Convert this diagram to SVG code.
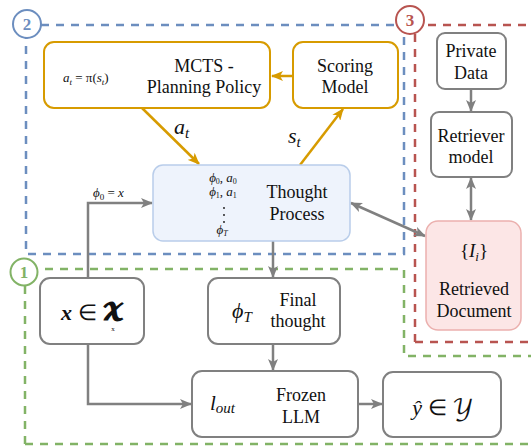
<svg xmlns="http://www.w3.org/2000/svg" width="531" height="447" viewBox="0 0 531 447" font-family="Liberation Serif, serif">
<style>
text { font-family: 'Liberation Serif', serif; fill: #111; }
.t { font-size: 18px; text-anchor: middle; }
.m { font-style: italic; }
.zone { fill: none; stroke-width: 2.5; stroke-dasharray: 8 7; }
.badge { fill: #fff; stroke-width: 2; }
.bn { font-size: 17px; font-weight: bold; text-anchor: middle; }
.gbox { fill: #fff; stroke: #808080; stroke-width: 2; }
.obox { fill: #fff; stroke: #d79b00; stroke-width: 2; }
.g { fill: none; stroke: #808080; stroke-width: 2.5; }
.o { fill: none; stroke: #d79b00; stroke-width: 2.5; }
</style>
<defs>
<marker id="ag" viewBox="0 0 12 10" refX="11" refY="5" markerWidth="12" markerHeight="10" markerUnits="userSpaceOnUse" orient="auto-start-reverse">
<path d="M0,0 L12,5 L0,10 L3,5 Z" fill="#808080"/>
</marker>
<marker id="ao" viewBox="0 0 12 10" refX="11" refY="5" markerWidth="12" markerHeight="10" markerUnits="userSpaceOnUse" orient="auto-start-reverse">
<path d="M0,0 L12,5 L0,10 L3,5 Z" fill="#d79b00"/>
</marker>
</defs>
<rect width="531" height="447" fill="#fff"/>

<g id="zones">
<rect class="zone" x="26" y="25" width="378" height="229" stroke="#6c8ebf"/>
<path class="zone" d="M415,342 L415,25 L540,25 M415,342 L540,342" stroke="#b85450"/>
<path class="zone" d="M25,444 L25,269 L404,269 L404,356 L540,356 M25,444 L540,444" stroke="#82b366"/>
<circle class="badge" cx="27" cy="24" r="14" stroke="#6c8ebf"/>
<text class="bn" x="27" y="30" style="fill:#6c8ebf">2</text>
<circle class="badge" cx="410" cy="20" r="14" stroke="#b85450"/>
<text class="bn" x="410" y="26" style="fill:#b85450">3</text>
<circle class="badge" cx="24" cy="272" r="13.5" stroke="#82b366"/>
<text class="bn" x="24" y="278" style="fill:#82b366">1</text>
</g>

<g id="connectors">
<path class="o" d="M293,76 L272,76" marker-end="url(#ao)"/>
<path class="o" d="M142,108 L199,164" marker-end="url(#ao)"/>
<path class="o" d="M300,165 L343,109" marker-end="url(#ao)"/>
<path class="g" d="M88,278 L88,203 L152,203" marker-end="url(#ag)"/>
<path class="g" d="M351,203 L425,236" marker-start="url(#ag)" marker-end="url(#ag)"/>
<path class="g" d="M471,89 L471,111" marker-end="url(#ag)"/>
<path class="g" d="M471,178 L471,220" marker-start="url(#ag)" marker-end="url(#ag)"/>
<path class="g" d="M273,241 L273,277" marker-end="url(#ag)"/>
<path class="g" d="M273,344 L273,370" marker-end="url(#ag)"/>
<path class="g" d="M88,344 L88,404 L191,404" marker-end="url(#ag)"/>
<path class="g" d="M358,404 L382,404" marker-end="url(#ag)"/>
<text class="m" x="174" y="134" style="font-size:22px">a<tspan dy="4" style="font-size:15px">t</tspan></text>
<text class="m" x="288" y="143" style="font-size:22px">s<tspan dy="4" style="font-size:15px">t</tspan></text>
<text class="m" x="93" y="197" style="font-size:13px">ϕ<tspan dy="3" style="font-size:9px;font-style:normal">0</tspan><tspan dy="-3" style="font-style:normal"> = </tspan>x</text>
</g>

<g id="mcts">
<rect class="obox" x="44" y="42" width="226" height="66" rx="10"/>
<text class="m" x="63" y="82" style="font-size:13px">a<tspan dy="3" style="font-size:9px">t</tspan><tspan dy="-3" style="font-style:normal"> = π(</tspan>s<tspan dy="3" style="font-size:9px">t</tspan><tspan dy="-3" style="font-style:normal">)</tspan></text>
<text class="t" x="204" y="72">MCTS -</text>
<text class="t" x="204" y="93">Planning Policy</text>
</g>

<g id="scoring">
<rect class="obox" x="293" y="42" width="105" height="66" rx="10"/>
<text class="t" x="345" y="72">Scoring</text>
<text class="t" x="345" y="93">Model</text>
</g>

<g id="thought">
<rect x="153" y="165" width="197" height="76" rx="10" fill="#eef3fc" stroke="#b9cdea" stroke-width="1.5"/>
<text class="m" x="223" y="182" style="font-size:13px;text-anchor:middle">ϕ<tspan dy="2" style="font-size:8px;font-style:normal">0</tspan><tspan dy="-2" style="font-style:normal">, </tspan>a<tspan dy="2" style="font-size:8px;font-style:normal">0</tspan></text>
<text class="m" x="223" y="196" style="font-size:13px;text-anchor:middle">ϕ<tspan dy="2" style="font-size:8px;font-style:normal">1</tspan><tspan dy="-2" style="font-style:normal">, </tspan>a<tspan dy="2" style="font-size:8px;font-style:normal">1</tspan></text>
<circle cx="224" cy="208" r="0.9" fill="#111"/>
<circle cx="224" cy="215" r="0.9" fill="#111"/>
<circle cx="224" cy="222" r="0.9" fill="#111"/>
<text class="m" x="222" y="234" style="font-size:13px;text-anchor:middle">ϕ<tspan dy="2" style="font-size:8px">T</tspan></text>
<text class="t" x="297" y="198">Thought</text>
<text class="t" x="297" y="220">Process</text>
</g>

<g id="private-data">
<rect class="gbox" x="437" y="33" width="69" height="56" rx="8"/>
<text class="t" x="471" y="57">Private</text>
<text class="t" x="471" y="79">Data</text>
</g>

<g id="retriever">
<rect class="gbox" x="431" y="112" width="81" height="65" rx="8"/>
<text class="t" x="471" y="142">Retriever</text>
<text class="t" x="471" y="163">model</text>
</g>

<g id="retrieved-doc">
<rect x="426" y="221" width="95" height="109" rx="12" fill="#fce6e6" stroke="#ebb0ae" stroke-width="1.5"/>
<text x="474" y="257" style="font-size:19px;text-anchor:middle">{<tspan class="m">I</tspan><tspan class="m" dy="4" style="font-size:13px">i</tspan><tspan dy="-4">}</tspan></text>
<text class="t" x="474" y="295">Retrieved</text>
<text class="t" x="474" y="317">Document</text>
</g>

<g id="input">
<rect class="gbox" x="40" y="278" width="104" height="66" rx="10"/>
<text x="61" y="320" style="font-size:22px"><tspan class="m" style="font-weight:bold">x</tspan> ∈ <tspan style="font-family:'DejaVu Math TeX Gyre','DejaVu Serif',serif;font-weight:bold">𝓧</tspan></text>
<text x="113" y="331" style="font-size:7px;text-anchor:middle">x</text>
</g>

<g id="final-thought">
<rect class="gbox" x="208" y="278" width="132" height="66" rx="10"/>
<text class="m" x="232" y="318" style="font-size:22px">ϕ<tspan dy="4" style="font-size:15px">T</tspan></text>
<text class="t" x="298" y="306">Final</text>
<text class="t" x="298" y="327">thought</text>
</g>

<g id="frozen-llm">
<rect class="gbox" x="192" y="371" width="166" height="66" rx="10"/>
<text class="m" x="210" y="410" style="font-size:21px">l<tspan dy="3" style="font-size:15px">out</tspan></text>
<text class="t" x="301" y="401">Frozen</text>
<text class="t" x="301" y="423">LLM</text>
</g>

<g id="output">
<rect class="gbox" x="383" y="372" width="118" height="65" rx="10"/>
<text x="443" y="415" style="font-size:22px;text-anchor:middle"><tspan class="m">ŷ</tspan> ∈ <tspan style="font-family:'DejaVu Math TeX Gyre','DejaVu Serif',serif">𝒴</tspan></text>
</g>
</svg>
